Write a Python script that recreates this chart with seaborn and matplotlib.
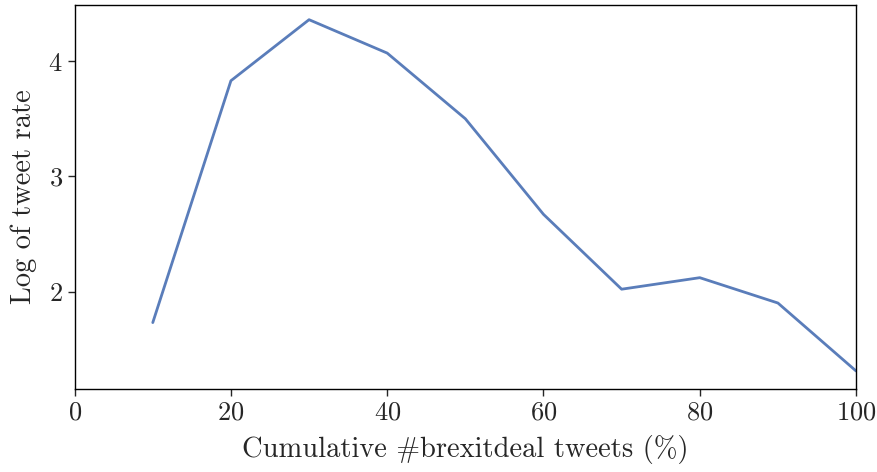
import numpy as np
import pandas as pd
import seaborn as sns
import matplotlib.pyplot as plt

# cumulative share of tweets and the log tweet rate
cum_pct = [10, 20, 30, 40, 50, 60, 70, 80, 90, 100]
log_rate = [1.73, 3.83, 4.36, 4.07, 3.50, 2.67, 2.02, 2.12, 1.90, 1.31]

df = pd.DataFrame({'cum': cum_pct, 'rate': log_rate})

sns.set_style('ticks')
plt.rcParams['font.family'] = ['cmr10', 'DejaVu Serif']
plt.rcParams['axes.formatter.use_mathtext'] = True
plt.rcParams['axes.unicode_minus'] = False
plt.rcParams['mathtext.fontset'] = 'cm'

fig, ax = plt.subplots(figsize=(8.78, 4.72), dpi=100)
sns.lineplot(data=df, x='cum', y='rate', ax=ax, color='#5a7dba', linewidth=2)

ax.set_xlim(0, 100)
ax.set_ylim(1.15, 4.49)
ax.set_xticks([0, 20, 40, 60, 80, 100])
ax.set_yticks([2, 3, 4])
ax.tick_params(labelsize=19, length=5, width=1)
ax.set_xlabel('Cumulative #brexitdeal tweets (%)', fontsize=20.5, labelpad=7)
ax.set_ylabel('Log of tweet rate', fontsize=20.5, labelpad=8)
for s in ax.spines.values():
    s.set_linewidth(1)
    s.set_color('black')

fig.subplots_adjust(left=0.085, right=0.975, top=0.99, bottom=0.175)
fig.savefig('out.png', dpi=100)
